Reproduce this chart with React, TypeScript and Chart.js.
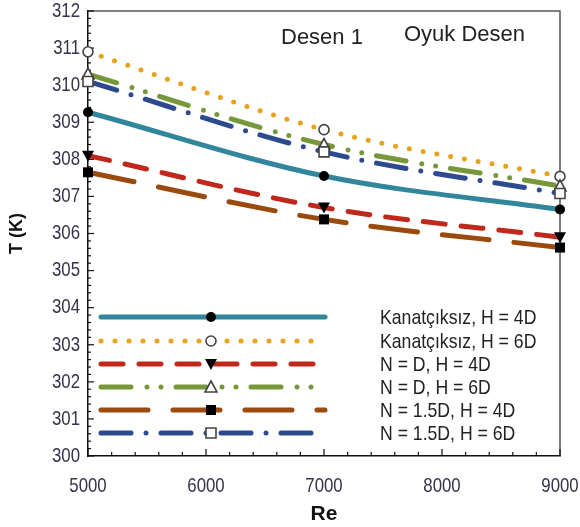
import React, { useEffect, useRef } from 'react';
import { Chart, registerables } from 'chart.js';

Chart.register(...registerables);

const reValues = [5000, 7000, 9000];
const seriesLabels = [
  'Kanatçıksız, H = 4D',
  'Kanatçıksız, H = 6D',
  'N = D, H = 4D',
  'N = D, H = 6D',
  'N = 1.5D, H = 4D',
  'N = 1.5D, H = 6D',
];
const kanat4D = [309.27, 307.55, 306.65];
const kanat6D = [310.9, 308.8, 307.54];
const nd4D = [308.1, 306.7, 305.9];
const nd6D = [310.3, 308.4, 307.28];
const n15d4D = [307.65, 306.38, 305.62];
const n15d6D = [310.1, 308.2, 307.08];
const xTickMin = 5000;
const xTickMax = 9000;
const yTickMin = 300;
const yTickMax = 312;
const annotations = ['Desen 1', 'Oyuk Desen'];

const SANS = "'Liberation Sans', Arial, sans-serif";

type MarkerKind = 'circle' | 'triangleDown' | 'triangleUp' | 'square';

const styles = [
  { color: '#31869b', dash: [] as number[], marker: 'circle' as MarkerKind, filled: true },
  { color: '#e8a21a', dash: [0, 14], marker: 'circle' as MarkerKind, filled: false },
  { color: '#c0281c', dash: [22, 16], marker: 'triangleDown' as MarkerKind, filled: true },
  { color: '#77983a', dash: [30, 16, 0, 14, 0, 15], marker: 'triangleUp' as MarkerKind, filled: false },
  { color: '#9a4a0c', dash: [47, 25], marker: 'square' as MarkerKind, filled: true },
  { color: '#2e4a8e', dash: [30, 15, 0, 15], marker: 'square' as MarkerKind, filled: false },
];

function drawMarker(ctx: CanvasRenderingContext2D, kind: MarkerKind, filled: boolean, x: number, y: number) {
  ctx.save();
  ctx.setLineDash([]);
  ctx.beginPath();
  if (kind === 'circle') {
    ctx.arc(x, y, 5, 0, Math.PI * 2);
  } else if (kind === 'square') {
    ctx.rect(x - 5, y - 5, 10, 10);
  } else if (kind === 'triangleDown') {
    ctx.moveTo(x - 6, y - 5);
    ctx.lineTo(x + 6, y - 5);
    ctx.lineTo(x, y + 6);
    ctx.closePath();
  } else {
    ctx.moveTo(x - 6, y + 5);
    ctx.lineTo(x + 6, y + 5);
    ctx.lineTo(x, y - 6);
    ctx.closePath();
  }
  if (filled) {
    ctx.fillStyle = '#000000';
    ctx.fill();
  } else {
    ctx.fillStyle = '#ffffff';
    ctx.fill();
    ctx.lineWidth = 1.6;
    ctx.strokeStyle = '#444444';
    ctx.stroke();
  }
  ctx.restore();
}

function narrowText(ctx: CanvasRenderingContext2D, text: string, x: number, y: number, size: number, sx: number, align: CanvasTextAlign, color: string) {
  ctx.save();
  ctx.translate(x, y);
  ctx.scale(sx, 1);
  ctx.font = `${size}px ${SANS}`;
  ctx.fillStyle = color;
  ctx.textAlign = align;
  ctx.textBaseline = 'middle';
  ctx.fillText(text, 0, 0);
  ctx.restore();
}

const decorPlugin = {
  id: 'decor',
  beforeDatasetsDraw(chart: any) {
    const { ctx, chartArea } = chart;
    const xs = chart.scales.x;
    const ys = chart.scales.y;
    ctx.save();
    // top & right frame
    ctx.strokeStyle = '#555555';
    ctx.lineWidth = 1.5;
    ctx.beginPath();
    ctx.moveTo(chartArea.left, chartArea.top);
    ctx.lineTo(chartArea.right, chartArea.top);
    ctx.lineTo(chartArea.right, chartArea.bottom);
    ctx.stroke();
    // inward ticks
    ctx.strokeStyle = '#111111';
    ctx.lineWidth = 1.2;
    for (let v = xTickMin; v <= xTickMax; v += 200) {
      const px = xs.getPixelForValue(v);
      const len = v % 1000 === 0 ? 7 : 4;
      ctx.beginPath();
      ctx.moveTo(px, chartArea.bottom);
      ctx.lineTo(px, chartArea.bottom - len);
      ctx.stroke();
    }
    for (let i = 0; i <= (yTickMax - yTickMin) * 5; i++) {
      const v = yTickMin + i * 0.2;
      const py = ys.getPixelForValue(v);
      const len = i % 5 === 0 ? 6 : 3;
      ctx.beginPath();
      ctx.moveTo(chartArea.left, py);
      ctx.lineTo(chartArea.left + len, py);
      ctx.stroke();
    }
    // tick labels (tall, condensed look as in the reference)
    xs.ticks.forEach((t: any) => {
      narrowText(ctx, String(t.value), xs.getPixelForValue(t.value), chartArea.bottom + 30, 21, 0.8, 'center', '#33334a');
    });
    ys.ticks.forEach((t: any) => {
      narrowText(ctx, String(t.value), chartArea.left - 8, ys.getPixelForValue(t.value), 21, 0.8, 'right', '#33334a');
    });
    ctx.restore();
  },
  afterDatasetsDraw(chart: any) {
    const { ctx } = chart;
    ctx.save();
    // annotations
    ctx.fillStyle = '#222222';
    ctx.font = `22px ${SANS}`;
    ctx.textBaseline = 'middle';
    ctx.textAlign = 'left';
    ctx.fillText(annotations[0], 281, 38);
    ctx.fillText(annotations[1], 404, 35);
    // legend
    const rows = [317, 341, 364, 387, 410, 433];
    chart.data.datasets.forEach((ds: any, i: number) => {
      const st = styles[i];
      const y = rows[i];
      ctx.save();
      ctx.strokeStyle = st.color;
      ctx.lineWidth = 5;
      ctx.lineCap = 'round';
      ctx.setLineDash(st.dash);
      ctx.beginPath();
      ctx.moveTo(101, y);
      ctx.lineTo(325, y);
      ctx.stroke();
      ctx.restore();
      drawMarker(ctx, st.marker, st.filled, 211, y);
      narrowText(ctx, ds.label, 380, y + 1, 21, 0.84, 'left', '#222222');
    });
    // markers on data points
    chart.data.datasets.forEach((ds: any, i: number) => {
      const meta = chart.getDatasetMeta(i);
      meta.data.forEach((pt: any) => {
        drawMarker(ctx, styles[i].marker, styles[i].filled, pt.x, pt.y);
      });
    });
    ctx.restore();
  },
};

export default function App() {
  const ref = useRef<HTMLCanvasElement | null>(null);
  useEffect(() => {
    if (!ref.current) return;
    const seriesData = [kanat4D, kanat6D, nd4D, nd6D, n15d4D, n15d6D];
    const chart = new Chart(ref.current, {
      type: 'line',
      data: {
        datasets: seriesData.map((vals, i) => ({
          label: seriesLabels[i],
          data: vals.map((v, j) => ({ x: reValues[j], y: v })),
          borderColor: styles[i].color,
          borderWidth: 5,
          borderDash: styles[i].dash,
          borderCapStyle: 'round' as const,
          cubicInterpolationMode: 'monotone' as const,
          pointRadius: 0,
          pointHoverRadius: 0,
          fill: false,
          clip: false as any,
        })),
      },
      options: {
        responsive: false,
        animation: false,
        events: [],
        layout: { padding: { left: 0, right: 20, top: 11, bottom: 0 } },
        plugins: {
          legend: { display: false },
          tooltip: { enabled: false },
        },
        scales: {
          x: {
            type: 'linear',
            min: xTickMin,
            max: xTickMax,
            afterFit: (s: any) => { s.height = 71; },
            grid: { display: false, drawTicks: false },
            border: { display: true, color: '#111111', width: 1.5 },
            ticks: { stepSize: 1000, display: false },
            title: {
              display: true,
              text: 'Re',
              color: '#111111',
              font: { family: SANS, size: 21, weight: 'bold' },
              padding: { top: 0, bottom: 0 },
            },
          },
          y: {
            type: 'linear',
            min: yTickMin,
            max: yTickMax,
            afterFit: (s: any) => { s.width = 88; },
            grid: { display: false, drawTicks: false },
            border: { display: true, color: '#111111', width: 1.5 },
            ticks: { stepSize: 1, display: false },
            title: {
              display: true,
              text: 'T (K)',
              color: '#111111',
              font: { family: SANS, size: 18, weight: 'bold' },
              padding: { top: 6, bottom: 0 },
            },
          },
        },
      },
      plugins: [decorPlugin],
    });
    return () => chart.destroy();
  }, []);
  return (
    <div style={{ position: 'fixed', left: 0, top: 0, width: 580, height: 527, background: '#ffffff' }}>
      <canvas ref={ref} width={580} height={527} style={{ display: 'block', width: 580, height: 527 }} />
    </div>
  );
}
